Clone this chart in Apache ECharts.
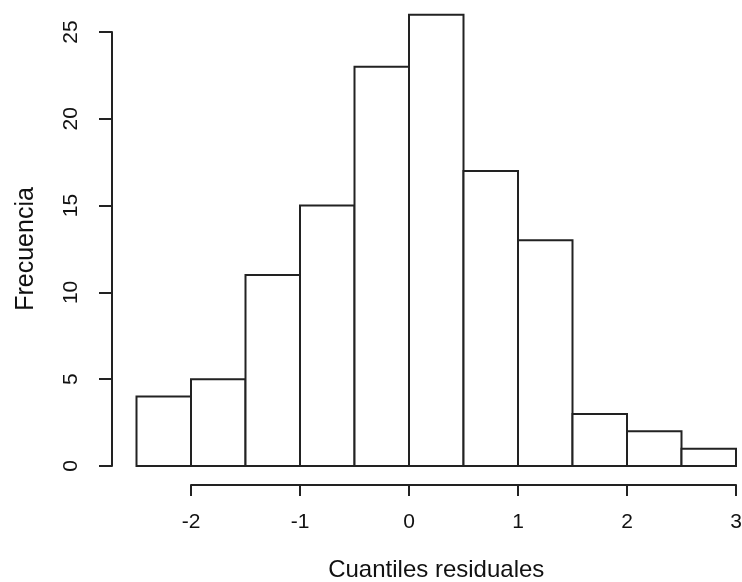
<!DOCTYPE html>
<html>
<head>
<meta charset="utf-8">
<script src="https://cdn.jsdelivr.net/npm/echarts@6/dist/echarts.min.js"></script>
<style>
html,body{margin:0;padding:0;background:#fff;}
#chart{width:742px;height:582px;}
</style>
</head>
<body>
<div id="chart"></div>
<script>
// Data
var binEdges = [-2.5, -2, -1.5, -1, -0.5, 0, 0.5, 1, 1.5, 2, 2.5, 3];
var frequencies = [4, 5, 11, 15, 23, 26, 17, 13, 3, 2, 1];
var yTicks = [0, 5, 10, 15, 20, 25];
var xTicks = [-2, -1, 0, 1, 2, 3];
var xTitle = 'Cuantiles residuales';
var yTitle = 'Frecuencia';

var histData = frequencies.map(function (f, i) {
  return [binEdges[i], binEdges[i + 1], f];
});

var FONT = 'Liberation Sans, Arial, sans-serif';
var LINE = '#222222';

var chart = echarts.init(document.getElementById('chart'), null, {renderer: 'canvas'});
chart.setOption({
  backgroundColor: '#ffffff',
  animation: false,
  grid: [
    {left: 136.5, right: 6, top: 32, bottom: 116, containLabel: false, outerBoundsMode: 'none'},
    {left: 191, right: 6, top: 32, bottom: 116, containLabel: false, outerBoundsMode: 'none'}
  ],
  xAxis: [
    {
      gridIndex: 0, type: 'value',
      min: binEdges[0], max: binEdges[binEdges.length - 1],
      axisLine: {show: false, onZero: false}, axisTick: {show: false}, axisLabel: {show: false},
      splitLine: {show: false},
      name: xTitle, nameLocation: 'middle', nameGap: 92,
      nameTextStyle: {fontFamily: FONT, fontSize: 24, color: '#111'}
    },
    {
      gridIndex: 1, type: 'value',
      min: xTicks[0], max: xTicks[xTicks.length - 1], interval: 1,
      offset: 19,
      axisLine: {show: true, onZero: false, lineStyle: {color: LINE, width: 2}},
      axisTick: {show: true, length: 11, lineStyle: {color: LINE, width: 2}},
      axisLabel: {show: true, margin: 27, fontFamily: FONT, fontSize: 21, color: '#111'},
      splitLine: {show: false}
    }
  ],
  yAxis: [
    {
      gridIndex: 0, type: 'value',
      min: yTicks[0], max: yTicks[yTicks.length - 1], interval: 5,
      offset: 24.5,
      axisLine: {show: true, onZero: false, lineStyle: {color: LINE, width: 2}},
      axisTick: {show: true, length: 13, lineStyle: {color: LINE, width: 2}},
      axisLabel: {show: true, rotate: 90, margin: 30, fontFamily: FONT, fontSize: 21, color: '#111'},
      splitLine: {show: false},
      name: yTitle, nameLocation: 'middle', nameGap: 73, nameRotate: 90,
      nameTextStyle: {fontFamily: FONT, fontSize: 25, color: '#111'}
    },
    {
      gridIndex: 1, type: 'value', min: 0, max: 25,
      show: false
    }
  ],
  series: [{
    type: 'custom',
    xAxisIndex: 0, yAxisIndex: 0,
    clip: false,
    data: histData,
    renderItem: function (params, api) {
      var p0 = api.coord([api.value(0), api.value(2)]);
      var p1 = api.coord([api.value(1), 0]);
      return {
        type: 'rect',
        shape: {x: p0[0], y: p0[1], width: p1[0] - p0[0], height: p1[1] - p0[1]},
        style: {fill: '#ffffff', stroke: LINE, lineWidth: 2}
      };
    }
  }]
});
</script>
</body>
</html>
